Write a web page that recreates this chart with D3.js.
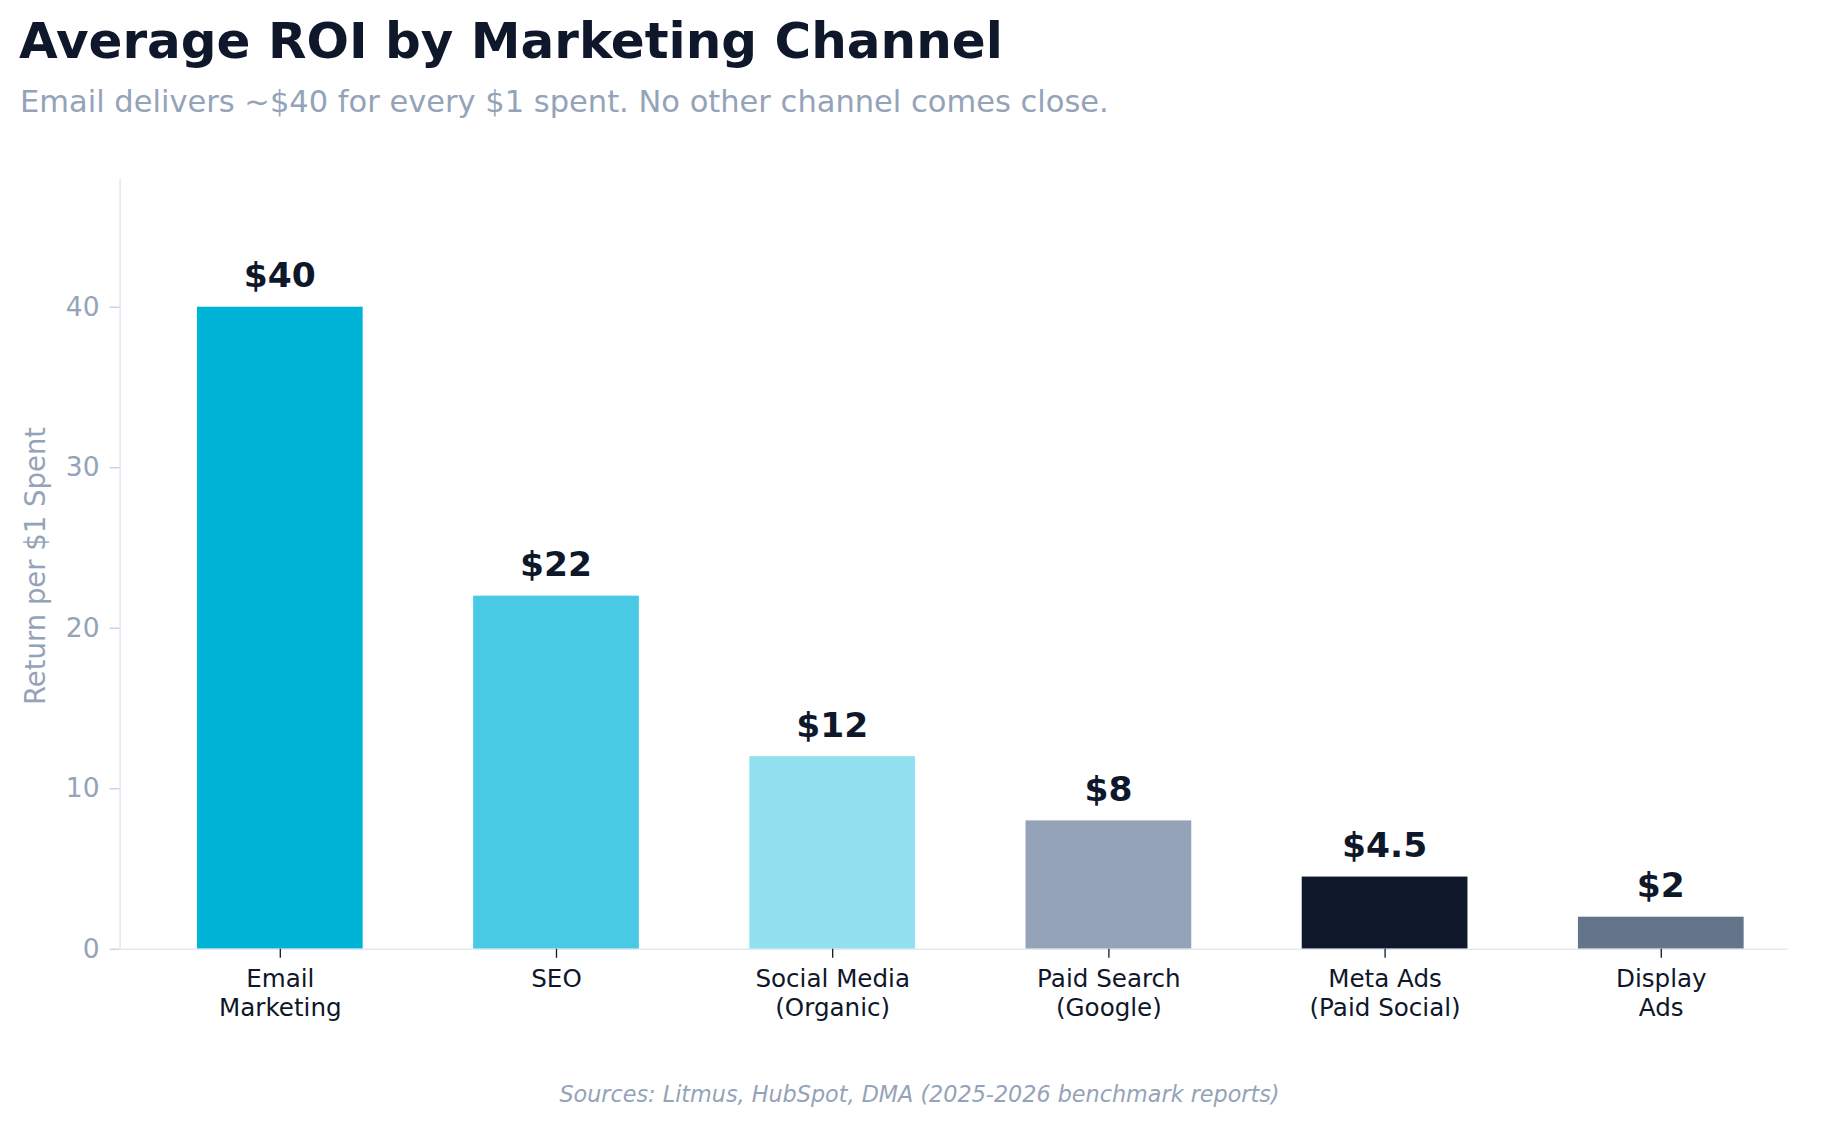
<!DOCTYPE html>
<html><head><meta charset="utf-8">
<script src="https://cdn.jsdelivr.net/npm/d3@7"></script>
<style>html,body{margin:0;padding:0;background:#fff;} svg{display:block;font-family:"DejaVu Sans",sans-serif;}</style>
</head><body>
<svg id="chart" width="1839" height="1127"></svg>
<script>
const categories = ["Email\nMarketing","SEO","Social Media\n(Organic)","Paid Search\n(Google)","Meta Ads\n(Paid Social)","Display\nAds"];
const roiValues = [40, 22, 12, 8, 4.5, 2];
const valueLabels = ["$40","$22","$12","$8","$4.5","$2"];
const barColors = ["#00b4d8","#48cae4","#90e0ef","#94a3b8","#0f172a","#64748b"];
const yTicks = [0,10,20,30,40];
const titleText = "Average ROI by Marketing Channel";
const subtitleText = "Email delivers ~$40 for every $1 spent. No other channel comes close.";
const yLabelText = "Return per $1 Spent";
const sourceText = "Sources: Litmus, HubSpot, DMA (2025-2026 benchmark reports)";

(function() {
const svg = d3.select("#chart");
const pLeft = 119.6, pRight = 1787, pTop = 178.3, pBottom = 948.8;
const x = d3.scaleLinear().domain([-0.58, 5.457]).range([pLeft, pRight]);
const y = d3.scaleLinear().domain([0, 48]).range([pBottom, pTop]);
const barW = x(0.3) - x(-0.3);

svg.append("text").attr("x", 19).attr("y", 57.5).attr("font-size", 50).attr("font-weight", "bold")
  .attr("fill", "#0f172a").text(titleText);
svg.append("text").attr("x", 20).attr("y", 111.5).attr("font-size", 30.5)
  .attr("fill", "#94a3b8").text(subtitleText);

svg.append("g").selectAll("rect").data(roiValues).join("rect")
  .attr("x", (d,i) => x(i) - barW/2).attr("width", barW)
  .attr("y", d => y(d)).attr("height", d => y(0) - y(d))
  .attr("fill", (d,i) => barColors[i]);

svg.append("g").selectAll("text").data(roiValues).join("text")
  .attr("x", (d,i) => x(i)).attr("y", d => y(d) - 19.5)
  .attr("text-anchor", "middle").attr("font-size", 34.5).attr("font-weight", "bold")
  .attr("fill", "#0f172a").text((d,i) => valueLabels[i]);

const yAxis = d3.axisLeft(y).tickValues(yTicks).tickSize(10).tickPadding(10).tickSizeOuter(0);
const gy = svg.append("g").attr("transform", `translate(${pLeft},0)`).call(yAxis);
gy.select(".domain").attr("stroke", "#e2e8f0").attr("stroke-width", 1.5);
gy.selectAll(".tick line").attr("stroke", "#cbd5e1").attr("stroke-width", 1.5);
gy.selectAll(".tick text").attr("fill", "#94a3b8").attr("font-size", 26.5).attr("font-family", "DejaVu Sans");

const xAxis = d3.axisBottom(x).tickValues(d3.range(categories.length)).tickSize(9).tickSizeOuter(0).tickFormat(() => "");
const gx = svg.append("g").attr("transform", `translate(0,${pBottom})`).call(xAxis);
gx.select(".domain").attr("stroke", "#e2e8f0").attr("stroke-width", 1.5);
gx.selectAll(".tick line").attr("stroke", "#0f172a").attr("stroke-width", 1.3);
gx.selectAll(".tick").each(function(d) {
  const lines = categories[d].split("\n");
  const t = d3.select(this).append("text").attr("fill", "#0f172a").attr("font-size", 24.6)
    .attr("font-family", "DejaVu Sans").attr("text-anchor", "middle");
  lines.forEach((ln, k) => t.append("tspan").attr("x", 0).attr("y", 38 + k * 29).text(ln));
});

svg.append("text").attr("transform", `translate(45,566) rotate(-90)`)
  .attr("text-anchor", "middle").attr("font-size", 27.5).attr("fill", "#94a3b8").text(yLabelText);

svg.append("text").attr("x", 919.5).attr("y", 1102).attr("text-anchor", "middle")
  .attr("font-size", 22.3).attr("font-style", "italic").attr("fill", "#94a3b8").text(sourceText);
})();
</script>
</body></html>
